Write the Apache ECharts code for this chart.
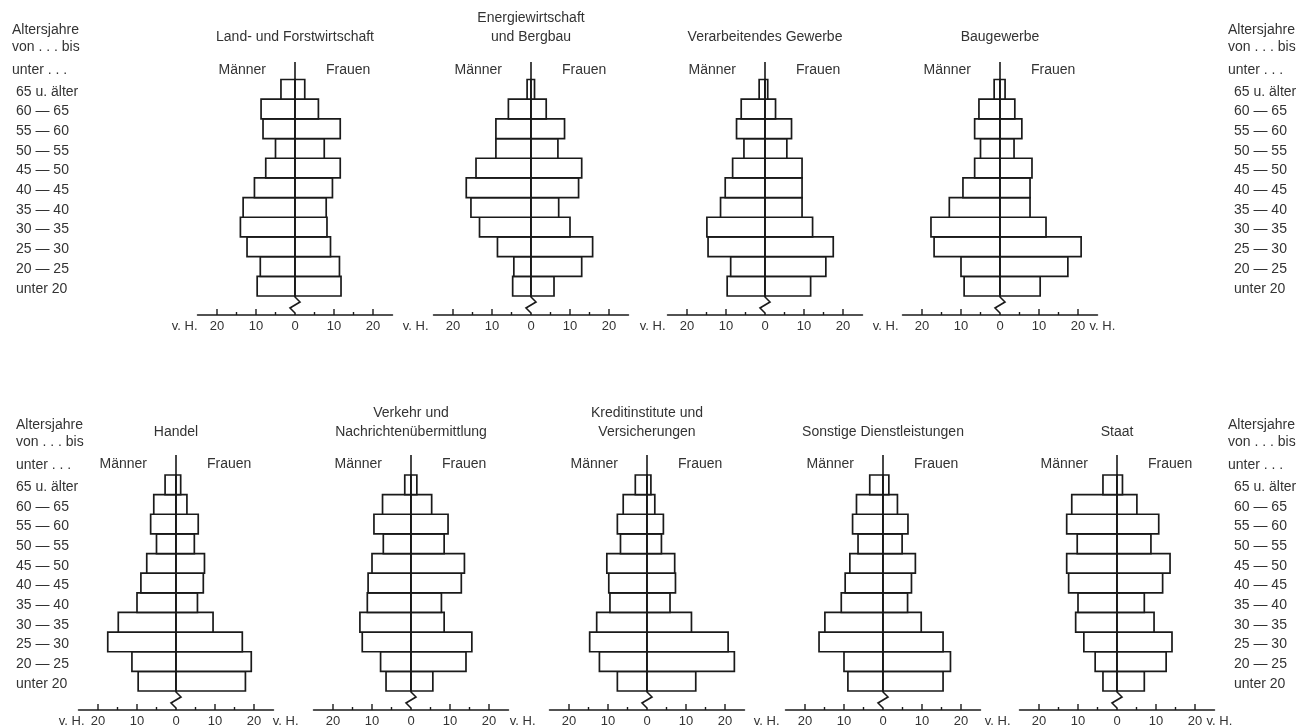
<!DOCTYPE html>
<html><head><meta charset="utf-8">
<script src="https://cdn.jsdelivr.net/npm/echarts@6/dist/echarts.min.js"></script>
<style>html,body{margin:0;padding:0;background:#fff}#c{width:1298px;height:728px}</style>
</head><body><div id="c"></div>
<script>
// ---------- DATA (percent, "v. H.") ----------
const ageGroups = ['unter 20','20 — 25','25 — 30','30 — 35','35 — 40','40 — 45','45 — 50','50 — 55','55 — 60','60 — 65','65 u. älter'];
const tickValues = [-20,-15,-10,-5,5,10,15,20];

const landMen     = [9.7, 8.9, 12.3, 14.0, 13.3, 10.4, 7.5, 5.0, 8.2, 8.7, 3.6];
const landWomen   = [11.8, 11.4, 9.1, 8.2, 8.0, 9.6, 11.6, 7.5, 11.6, 6.0, 2.5];
const energieMen  = [4.7, 4.4, 8.6, 13.2, 15.4, 16.6, 14.1, 9.0, 9.0, 5.8, 1.0];
const energieWomen= [5.9, 13.0, 15.8, 10.0, 7.1, 12.2, 13.0, 6.9, 8.6, 3.9, 0.9];
const verarbMen   = [9.7, 8.8, 14.6, 14.9, 11.4, 10.2, 8.3, 5.4, 7.3, 6.1, 1.5];
const verarbWomen = [11.7, 15.6, 17.5, 12.2, 9.5, 9.5, 9.5, 5.6, 6.8, 2.7, 0.7];
const bauMen      = [9.2, 10.0, 16.9, 17.7, 13.0, 9.5, 6.5, 5.0, 6.5, 5.4, 1.5];
const bauWomen    = [10.3, 17.4, 20.8, 11.8, 7.7, 7.7, 8.2, 3.6, 5.6, 3.8, 1.3];
const handelMen   = [9.7, 11.3, 17.5, 14.8, 10.0, 9.0, 7.5, 5.0, 6.5, 5.7, 2.8];
const handelWomen = [17.8, 19.3, 17.0, 9.5, 5.5, 7.0, 7.3, 4.7, 5.7, 2.8, 1.2];
const verkehrMen  = [6.4, 7.8, 12.5, 13.1, 11.2, 11.0, 10.0, 7.1, 9.5, 7.3, 1.6];
const verkehrWomen= [5.6, 14.1, 15.6, 8.5, 7.8, 12.9, 13.7, 8.5, 9.5, 5.3, 1.5];
const kreditMen   = [7.6, 12.2, 14.7, 12.9, 9.5, 9.8, 10.3, 6.8, 7.6, 6.1, 3.0];
const kreditWomen = [12.5, 22.4, 20.8, 11.4, 5.9, 7.3, 7.1, 3.7, 4.2, 2.0, 1.0];
const sonstMen    = [9.0, 10.0, 16.4, 14.9, 10.7, 9.7, 8.5, 6.4, 7.8, 6.8, 3.4];
const sonstWomen  = [15.4, 17.3, 15.4, 9.8, 6.3, 7.3, 8.3, 4.9, 6.4, 3.7, 1.5];
const staatMen    = [3.6, 5.6, 8.5, 10.6, 10.0, 12.4, 12.9, 10.2, 12.9, 11.6, 3.6];
const staatWomen  = [7.0, 12.6, 14.1, 9.5, 7.0, 11.7, 13.6, 8.7, 10.7, 5.1, 1.4];

const titles = [
  'Land- und Forstwirtschaft', 'Energiewirtschaft\nund Bergbau', 'Verarbeitendes Gewerbe', 'Baugewerbe',
  'Handel', 'Verkehr und\nNachrichtenübermittlung', 'Kreditinstitute und\nVersicherungen', 'Sonstige Dienstleistungen', 'Staat'
];
const menLabel = 'Männer', womenLabel = 'Frauen', unitLabel = 'v. H.';
const headerLines = ['Altersjahre', 'von . . . bis', 'unter . . .'];

const panels = [
  {men: landMen, women: landWomen}, {men: energieMen, women: energieWomen},
  {men: verarbMen, women: verarbWomen}, {men: bauMen, women: bauWomen},
  {men: handelMen, women: handelWomen}, {men: verkehrMen, women: verkehrWomen},
  {men: kreditMen, women: kreditWomen}, {men: sonstMen, women: sonstWomen},
  {men: staatMen, women: staatWomen}
];

// ---------- LAYOUT ----------
const FONT = 'Liberation Sans, Arial, sans-serif';
const TEXT = '#333';
const LINE = '#1a1a1a';
const HALF = 97.5;          // px for 25 units
const AXIS_OFFSET = 19;
const LABEL_SHIFT = 2.5;
const rows = [
  {top: 79.5, height: 216.5, centers: [295, 531, 765, 1000], titleY: 37, mfY: 70, spine: 17.5,
   headerY: [30, 47, 70], headerLeftX: 12, headerRightX: 1228},
  {top: 475, height: 216, centers: [176, 411, 647, 883, 1117], titleY: 432, mfY: 464, spine: 20,
   headerY: [425, 442, 465], headerLeftX: 16, headerRightX: 1228}
];
const labelLeftX = 16, labelRightX = 1234;
const unitGapsLeft = [0, 5, 2, 4, -6, 15, 14, 6, 9];
const unitGapRight = -8;

function renderBox(params, api) {
  const v = api.value(0), c = api.value(1);
  const p0 = api.coord([0, c]);
  const p1 = api.coord([v, c]);
  const h = api.size([0, 1])[1];
  return {type: 'rect',
    shape: {x: Math.min(p0[0], p1[0]), y: p0[1] - h / 2, width: Math.abs(p1[0] - p0[0]), height: h},
    style: {fill: '#fff', stroke: LINE, lineWidth: 1.7}};
}

const grids = [], xAxes = [], yAxes = [], series = [], graphics = [];
const txt = (x, y, text, align, size) => ({type: 'text', x: x, y: y, silent: true,
  style: {text: text, fill: TEXT, font: (size || 14) + 'px ' + FONT, align: align, verticalAlign: 'middle'}});
const hiddenX = g => ({gridIndex: g, type: 'value', min: -25, max: 25, show: false});
const labelAxis = (g, pos, margin) => ({
  gridIndex: g, type: 'category', data: ageGroups, position: pos,
  axisLine: {show: false}, axisTick: {show: false}, splitLine: {show: false},
  axisLabel: {show: true, interval: 0, align: 'left', margin: margin, color: TEXT, fontFamily: FONT, fontSize: 14}
});

let p = 0;
rows.forEach((row, r) => {
  row.centers.forEach((cx, k) => {
    const i = p++;
    const panel = panels[i];
    const g = grids.length;
    grids.push({left: cx - HALF, top: row.top, width: 2 * HALF, height: row.height, outerBoundsMode: 'none', containLabel: false});
    xAxes.push({
      gridIndex: g, type: 'value', min: -25, max: 25, interval: 5, position: 'bottom', offset: AXIS_OFFSET,
      axisLine: {show: true, onZero: false, lineStyle: {color: LINE, width: 1.5}},
      axisTick: {show: false}, splitLine: {show: false},
      axisLabel: {margin: 5, color: TEXT, fontFamily: FONT, fontSize: 13,
        formatter: v => (v % 10 === 0 && Math.abs(v) <= 20) ? String(Math.abs(v)) : ''}
    });
    yAxes.push({
      gridIndex: g, type: 'category', data: ageGroups, show: false
    });
    const xi = xAxes.length - 1, yi = yAxes.length - 1;
    const common = {type: 'custom', coordinateSystem: 'cartesian2d', xAxisIndex: xi, yAxisIndex: yi, clip: false, silent: true, encode: {x: 0, y: 1}};
    series.push(Object.assign({}, common, {name: menLabel, z: 2, renderItem: renderBox,
      data: panel.men.map((v, j) => [-v, j])}));
    series.push(Object.assign({}, common, {name: womenLabel, z: 2, renderItem: renderBox,
      data: panel.women.map((v, j) => [v, j])}));
    series.push(Object.assign({}, common, {z: 5,
      data: tickValues.map(v => [v, 0]),
      renderItem: (params, api) => {
        const cs = params.coordSys;
        const v = api.value(0);
        const x = api.coord([v, 0])[0];
        const y0 = cs.y + cs.height + AXIS_OFFSET;
        const len = v % 10 === 0 ? 6 : 3;
        return {type: 'line', shape: {x1: x, y1: y0, x2: x, y2: y0 - len}, style: {stroke: LINE, lineWidth: 1.4}};
      }
    }));
    const ext = row.spine;
    series.push(Object.assign({}, common, {z: 6,
      data: [[0, 0]],
      renderItem: (params, api) => {
        const cs = params.coordSys;
        const x = api.coord([0, 0])[0];
        const b = cs.y + cs.height;
        return {type: 'polyline', shape: {points: [[x, cs.y - ext], [x, b + 1], [x + 5, b + 6], [x - 5, b + 12], [x, b + 17], [x, b + AXIS_OFFSET]]},
          style: {stroke: LINE, lineWidth: 1.6, fill: null}};
      }
    }));
    // age label axes (slightly lowered, as in the print)
    const isFirst = k === 0, isLast = k === row.centers.length - 1;
    if (isFirst || isLast) {
      const lg = grids.length;
      grids.push({left: cx - HALF, top: row.top + LABEL_SHIFT, width: 2 * HALF, height: row.height, outerBoundsMode: 'none', containLabel: false});
      xAxes.push(hiddenX(lg));
      if (isFirst) yAxes.push(labelAxis(lg, 'left', cx - HALF - labelLeftX));
      if (isLast) yAxes.push(labelAxis(lg, 'right', labelRightX - (cx + HALF)));
    }
    // texts
    const tl = titles[i].split('\n');
    tl.forEach((t, j) => graphics.push(txt(cx, row.titleY - (tl.length - 1 - j) * 19, t, 'center')));
    graphics.push(txt(cx - 29, row.mfY, menLabel, 'right'));
    graphics.push(txt(cx + 31, row.mfY, womenLabel, 'left'));
    const unitY = row.top + row.height + AXIS_OFFSET + 11.5;
    graphics.push(txt(cx - HALF - unitGapsLeft[i], unitY, unitLabel, 'right', 13));
    if (isLast) graphics.push(txt(cx + HALF + unitGapRight, unitY, unitLabel, 'left', 13));
  });
  headerLines.forEach((h, j) => {
    graphics.push(txt(row.headerLeftX, row.headerY[j], h, 'left'));
    graphics.push(txt(row.headerRightX, row.headerY[j], h, 'left'));
  });
});

const chart = echarts.init(document.getElementById('c'), null, {renderer: 'canvas'});
chart.setOption({
  animation: false,
  backgroundColor: '#fff',
  grid: grids, xAxis: xAxes, yAxis: yAxes, series: series,
  graphic: graphics
});
</script></body></html>
